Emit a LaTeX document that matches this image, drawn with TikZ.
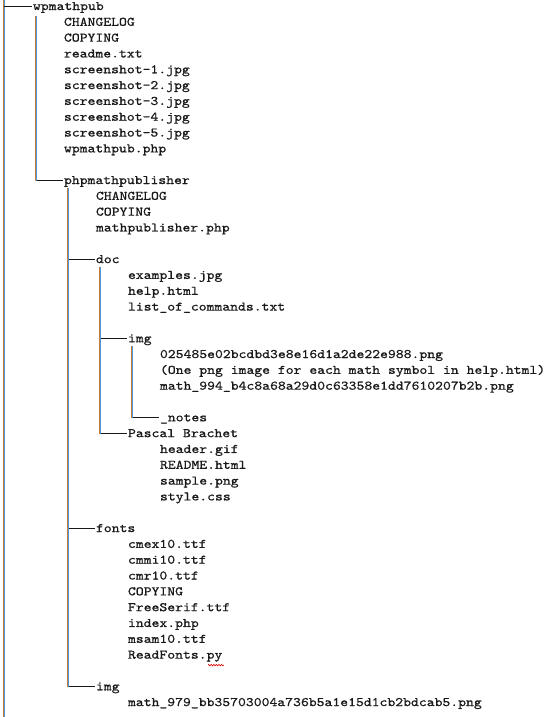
\documentclass[tikz,border=0pt]{standalone}
\usepackage{fontspec}
\newfontfamily\treefont[Extension=.otf, FakeStretch=1.15, FakeBold=0.7]{lmmono10-regular}
\usetikzlibrary{decorations.pathmorphing}
\definecolor{barO}{RGB}{200,125,50}
\definecolor{barB}{RGB}{70,150,225}
\tikzset{
  item/.style={anchor=base west, inner sep=0pt, outer sep=0pt, yshift=-3.5bp,
    font=\treefont\fontsize{13.07}{15}\selectfont, text=black!90},
  hline/.style={draw=black!90, line width=0.9bp},
  trunkO/.style={draw=barO, line width=1bp},
  trunkB/.style={draw=barB, line width=1bp},
  squig/.style={draw=red!85!black, line width=0.6pt, decorate,
    decoration={zigzag, amplitude=0.8pt, segment length=2.6pt}},
}
\newcommand\trunk[3]{%
  \draw[trunkO] (#1-0.5,#2) -- (#1-0.5,#3);
  \draw[trunkB] (#1+0.5,#2) -- (#1+0.5,#3);}
\begin{document}
\begin{tikzpicture}
\useasboundingbox[fill=white] (0,0) rectangle (550bp,-717bp);
\begin{scope}[x=1bp, y=-15.82bp, yshift=-6.5bp]
  % top level
  \node[item] (wp) at (33,0) {wpmathpub};
  \node[item] (c1) at (64,1) {CHANGELOG};
  \node[item] (c2) at (64,2) {COPYING};
  \node[item] (c3) at (64,3) {readme.txt};
  \node[item] (c4) at (64,4) {screenshot-1.jpg};
  \node[item] (c5) at (64,5) {screenshot-2.jpg};
  \node[item] (c6) at (64,6) {screenshot-3.jpg};
  \node[item] (c7) at (64,7) {screenshot-4.jpg};
  \node[item] (c8) at (64,8) {screenshot-5.jpg};
  \node[item] (c9) at (64,9) {wpmathpub.php};
  % phpmathpublisher
  \node[item] (php) at (64,11) {phpmathpublisher};
  \node[item] (p1) at (96,12) {CHANGELOG};
  \node[item] (p2) at (96,13) {COPYING};
  \node[item] (p3) at (96,14) {mathpublisher.php};
  % doc
  \node[item] (doc) at (96,16) {doc};
  \node[item] (d1) at (128,17) {examples.jpg};
  \node[item] (d2) at (128,18) {help.html};
  \node[item] (d3) at (128,19) {list\_of\_commands.txt};
  \node[item] (dimg) at (128,21) {img};
  \node[item] (i1) at (160,22) {025485e02bcdbd3e8e16d1a2de22e988.png};
  \node[item] (i2) at (160,23) {(One png image for each math symbol in help.html)};
  \node[item] (i3) at (160,24) {math\_994\_b4c8a68a29d0c63358e1dd7610207b2b.png};
  \node[item] (notes) at (160,26) {\_notes};
  \node[item] (pb) at (128,27) {Pascal Brachet};
  \node[item] (b1) at (160,28) {header.gif};
  \node[item] (b2) at (160,29) {README.html};
  \node[item] (b3) at (160,30) {sample.png};
  \node[item] (b4) at (160,31) {style.css};
  % fonts
  \node[item] (fonts) at (96,33) {fonts};
  \node[item] (f1) at (128,34) {cmex10.ttf};
  \node[item] (f2) at (128,35) {cmmi10.ttf};
  \node[item] (f3) at (128,36) {cmr10.ttf};
  \node[item] (f4) at (128,37) {COPYING};
  \node[item] (f5) at (128,38) {FreeSerif.ttf};
  \node[item] (f6) at (128,39) {index.php};
  \node[item] (f7) at (128,40) {msam10.ttf};
  \node[item] (rf) at (128,41) {ReadFonts.py};
  % img
  \node[item] (pimg) at (96,43) {img};
  \node[item] (g1) at (128,44) {math\_979\_bb35703004a736b5a1e15d1cb2bdcab5.png};

  % trunks
  \trunk{4}{-0.45}{45}
  \trunk{36}{0.6}{11}
  \trunk{68}{11.45}{43}
  \trunk{100}{16.45}{27}
  \trunk{132}{21.45}{26}

  % branches
  \coordinate (rootT) at (4.5,0);
  \draw[hline] (rootT) -- ([shift={(-1bp,3.5bp)}]wp.base west);
  \draw[hline] (36.5,11) -- ([shift={(-1bp,3.5bp)}]php.base west);
  \draw[hline] (68.5,16) -- ([shift={(-1bp,3.5bp)}]doc.base west);
  \draw[hline] (68.5,33) -- ([shift={(-1bp,3.5bp)}]fonts.base west);
  \draw[hline] (68.5,43) -- ([shift={(-1bp,3.5bp)}]pimg.base west);
  \draw[hline] (100.5,21) -- ([shift={(-1bp,3.5bp)}]dimg.base west);
  \draw[hline] (100.5,27) -- ([shift={(-1bp,3.5bp)}]pb.base west);
  \draw[hline] (132.5,26) -- ([shift={(-1bp,3.5bp)}]notes.base west);

  % spell-check squiggle under "py"
  \draw[squig] ([shift={(80bp,-6.5bp)}]rf.base west) -- ([shift={(96bp,-6.5bp)}]rf.base west);
\end{scope}
\end{tikzpicture}
\end{document}
